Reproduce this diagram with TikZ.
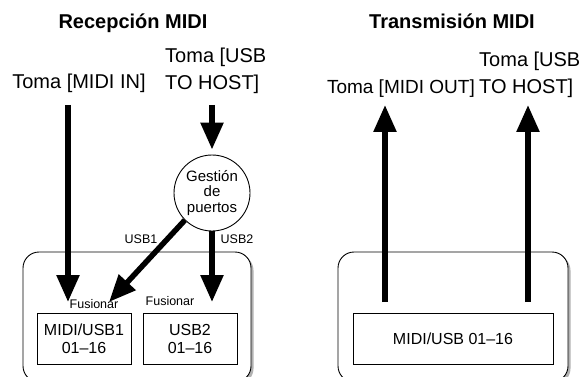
\documentclass[tikz,border=0pt]{standalone}
\usepackage{fontspec}
\setmainfont{Liberation Sans}
\usetikzlibrary{arrows.meta,shadows,positioning}

\begin{document}
\begin{tikzpicture}[x=1pt, y=-1pt,
  ttl/.style={font=\fontsize{20}{24}\selectfont\bfseries, inner sep=0pt},
  lbl/.style={font=\fontsize{20}{27}\selectfont, inner sep=0pt},
  tag/.style={font=\fontsize{12.5}{14}\selectfont, inner sep=0pt},
  unit/.style={draw, rounded corners=16pt, line width=0.9pt, fill=white,
               drop shadow={shadow xshift=2.5pt, shadow yshift=-2.5pt,
                            fill=black!30, opacity=1}},
  part/.style={draw, line width=0.9pt, minimum height=51pt, align=center,
               inner sep=0pt, font=\fontsize{16}{18}\selectfont},
  port/.style={draw, circle, line width=0.9pt, minimum size=76pt, inner sep=0pt,
               align=center, font=\fontsize{15}{15.5}\selectfont},
  flow/.style={line width=5.5pt, -{Triangle[length=27pt,width=22pt]}},
]
\useasboundingbox (0,0) rectangle (586,377);
\clip (0,0) rectangle (586,377);

% ---------- Reception ----------
\node[ttl, anchor=base] (recv) at (133,29) {Recepción MIDI};
\node[lbl, anchor=base] (midiin) at (79,89) {Toma [MIDI IN]};
\node[lbl, anchor=base west, align=left] (hostin) at (165,90) {Toma [USB\\TO HOST]};

\node[unit, minimum width=228pt, minimum height=130pt] (unitL) at (137,317) {};
\node[part, minimum width=94pt] (midi1) at (84,338.5) {MIDI/USB1\\01--16};
\node[part, minimum width=94pt] (usb2) at (190,338.5) {USB2\\01--16};
\node[tag, anchor=base] (mergeA) at (94,308) {Fusionar};
\node[tag, anchor=base] (mergeB) at (170,305) {Fusionar};

\node[port] (mgr) at (212,193) {Gestión\\de\\puertos};
\node[tag, anchor=base] (usbone) at (141,243) {USB1};
\node[tag, anchor=base] (usbtwo) at (237,243) {USB2};

\coordinate (inA) at (68,105);
\coordinate (tipA) at (68,302);
\coordinate (inH) at (212,105);
\coordinate (tipB) at (109,302);
\coordinate (tipC) at (212,302);

\draw[flow] (inA) -- (tipA);
\draw[flow, shorten >=5pt] (inH) -- (mgr.north);
\draw[flow] (mgr.225) -- (tipB);
\draw[flow] (mgr.south) -- (tipC);

% ---------- Transmission ----------
\node[ttl, anchor=base] (send) at (452,29) {Transmisión MIDI};
\node[lbl, anchor=base east, font=\fontsize{19}{27}\selectfont] (midiout) at (475,94) {Toma [MIDI OUT]};
\node[lbl, anchor=base west, align=left] (hostout) at (479,94) {Toma [USB\\TO HOST]};

\node[unit, minimum width=230pt, minimum height=130pt] (unitR) at (453,317) {};
\node[part, minimum width=200pt] (mixed) at (453,338.5) {MIDI/USB 01--16};

\coordinate (srcD) at (385,302);
\coordinate (outD) at (385,105);
\coordinate (srcE) at (528,302);
\coordinate (outE) at (528,105);

\draw[flow] (srcD) -- (outD);
\draw[flow] (srcE) -- (outE);

\end{tikzpicture}
\end{document}
